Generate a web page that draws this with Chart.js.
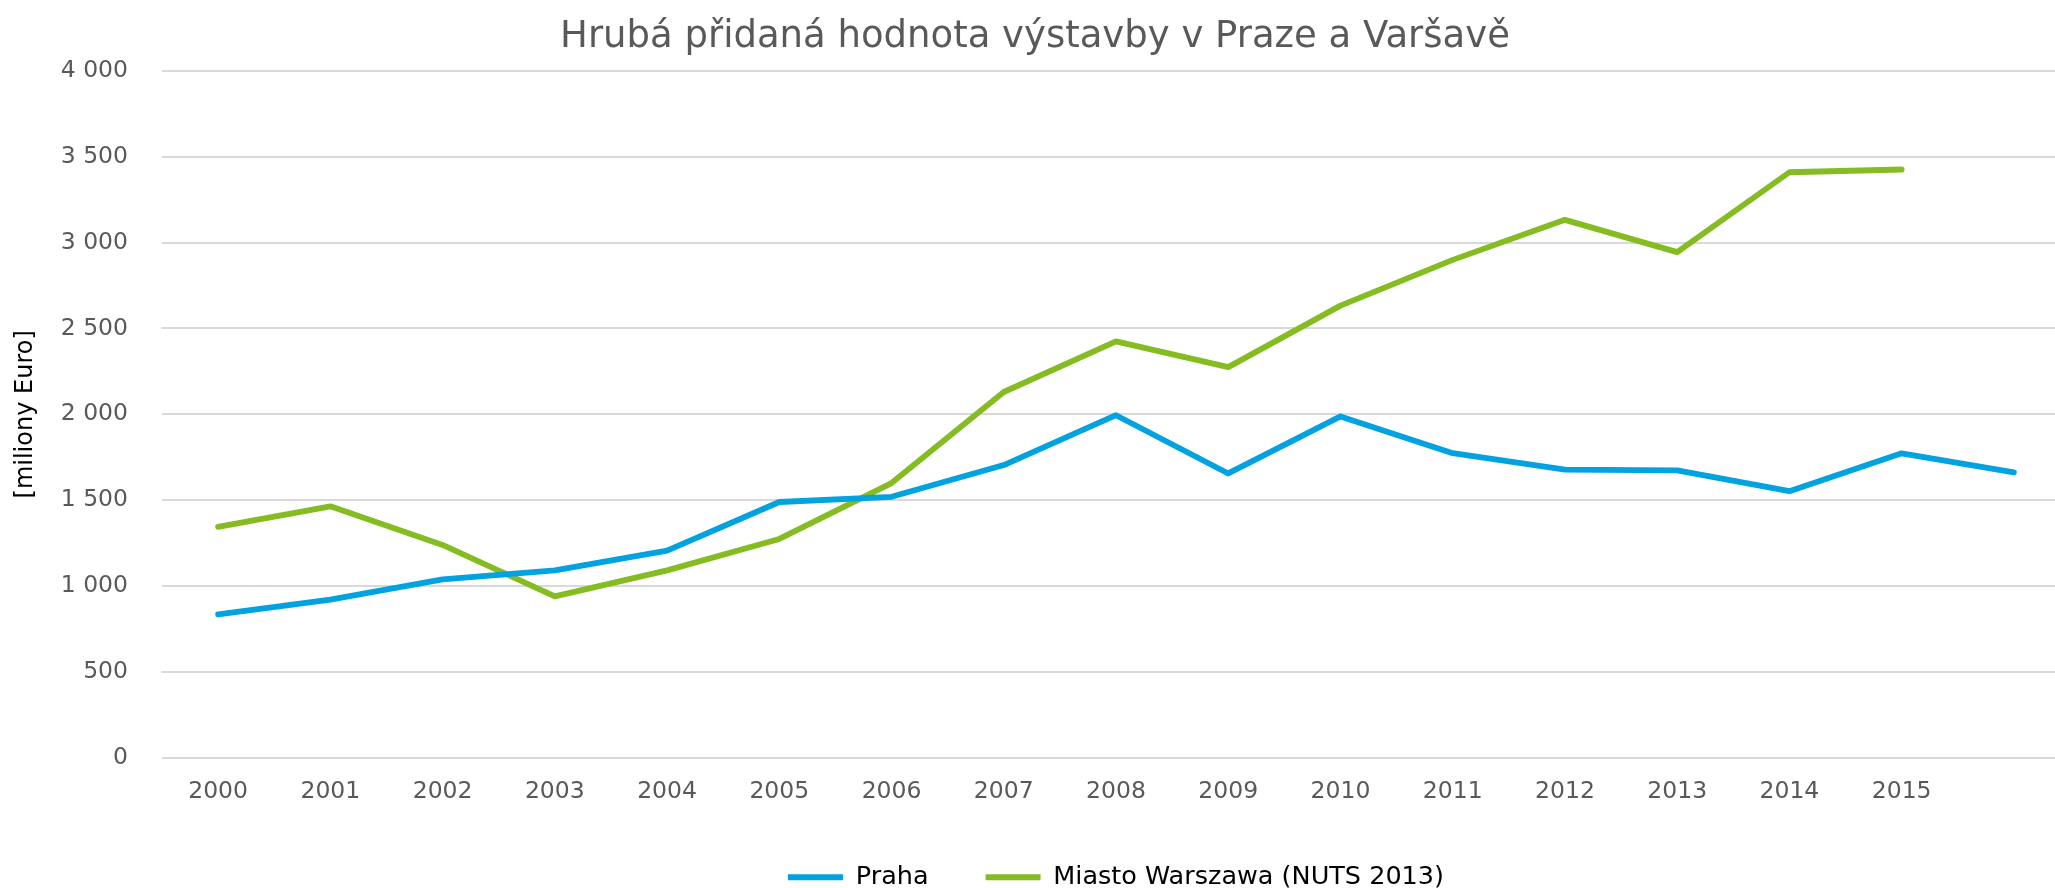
<!DOCTYPE html>
<html>
<head>
<meta charset="utf-8">
<title>Hrubá přidaná hodnota výstavby v Praze a Varšavě</title>
<script src="https://cdn.jsdelivr.net/npm/chart.js@4.4.1/dist/chart.umd.min.js"></script>
<style>
  html, body { margin: 0; padding: 0; background: #fff; overflow: hidden; }
  #wrap { position: relative; width: 2072px; height: 900px; }
</style>
</head>
<body>
<div id="wrap"><canvas id="chartGva"></canvas></div>
<script>
// years on the category axis (last point has no label in the original)
const years = ["2000", "2001", "2002", "2003", "2004", "2005", "2006", "2007",
  "2008", "2009", "2010", "2011", "2012", "2013", "2014", "2015", ""];

// milions of Euro
const praha = [836, 922, 1040, 1092, 1207, 1490, 1520, 1705, 1995, 1656,
  1988, 1774, 1678, 1674, 1553, 1773, 1662];
const warszawa = [1345, 1465, 1240, 941, 1092, 1275, 1600, 2130, 2425, 2275,
  2633, 2899, 3132, 2944, 3409, 3425];

const seriesNames = ["Praha", "Miasto Warszawa (NUTS 2013)"];
const yTicks = [0, 500, 1000, 1500, 2000, 2500, 3000, 3500, 4000];

const greyText = "#595959";
Chart.defaults.font.family = "'DejaVu Sans', Verdana, sans-serif";

// 4000 -> "4 000"
function formatThousands(value) {
  return String(value).replace(/\B(?=(\d{3})+(?!\d))/g, " ");
}

function createLineData() {
  return {
    labels: years,
    datasets: [
      {
        label: seriesNames[0],
        data: praha,
        borderColor: "#00a3e0",
        backgroundColor: "#00a3e0",
        borderWidth: 5.8,
        borderCapStyle: "round",
        borderJoinStyle: "round",
        pointRadius: 0,
        pointStyle: "line",
        fill: false
      },
      {
        label: seriesNames[1],
        data: warszawa,
        borderColor: "#84bc22",
        backgroundColor: "#84bc22",
        borderWidth: 5.8,
        borderCapStyle: "round",
        borderJoinStyle: "round",
        pointRadius: 0,
        pointStyle: "line",
        fill: false
      }
    ]
  };
}

const ctx = document.getElementById("chartGva").getContext("2d");
new Chart(ctx, {
  type: "line",
  data: createLineData(),
  options: {
    responsive: true,
    maintainAspectRatio: false,
    animation: false,
    layout: { padding: { left: 0, right: 2, top: 0, bottom: 0 } },
    plugins: {
      title: {
        display: true,
        text: "Hrubá přidaná hodnota výstavby v Praze a Varšavě",
        color: greyText,
        font: { size: 37, weight: "normal" },
        padding: { top: 15, bottom: 11.3 }
      },
      legend: {
        position: "bottom",
        fullSize: false,
        labels: {
          usePointStyle: true,
          pointStyleWidth: 55,
          color: "#000",
          font: { size: 25.5 },
          padding: 57
        }
      },
      tooltip: { enabled: false }
    },
    scales: {
      x: {
        offset: true,
        grid: { display: false, drawTicks: false },
        border: { display: false },
        ticks: {
          color: greyText,
          font: { size: 23.5 },
          padding: 20,
          autoSkip: false,
          maxRotation: 0
        },
        afterFit: (scale) => { scale.height = 49.5; }
      },
      y: {
        min: 0,
        max: 4000,
        afterBuildTicks: (scale) => { scale.ticks = yTicks.map(v => ({ value: v })); },
        grid: { color: "#d9d9d9", lineWidth: 2, drawTicks: false },
        border: { display: false },
        ticks: {
          color: greyText,
          font: { size: 23.5 },
          padding: 34,
          callback: (value) => formatThousands(value)
        },
        title: {
          display: true,
          text: "[miliony Euro]",
          color: "#000",
          font: { size: 24 },
          padding: { top: 11.6, bottom: 0 }
        },
        afterFit: (scale) => { scale.width = 162; }
      }
    }
  }
});
</script>
</body>
</html>
